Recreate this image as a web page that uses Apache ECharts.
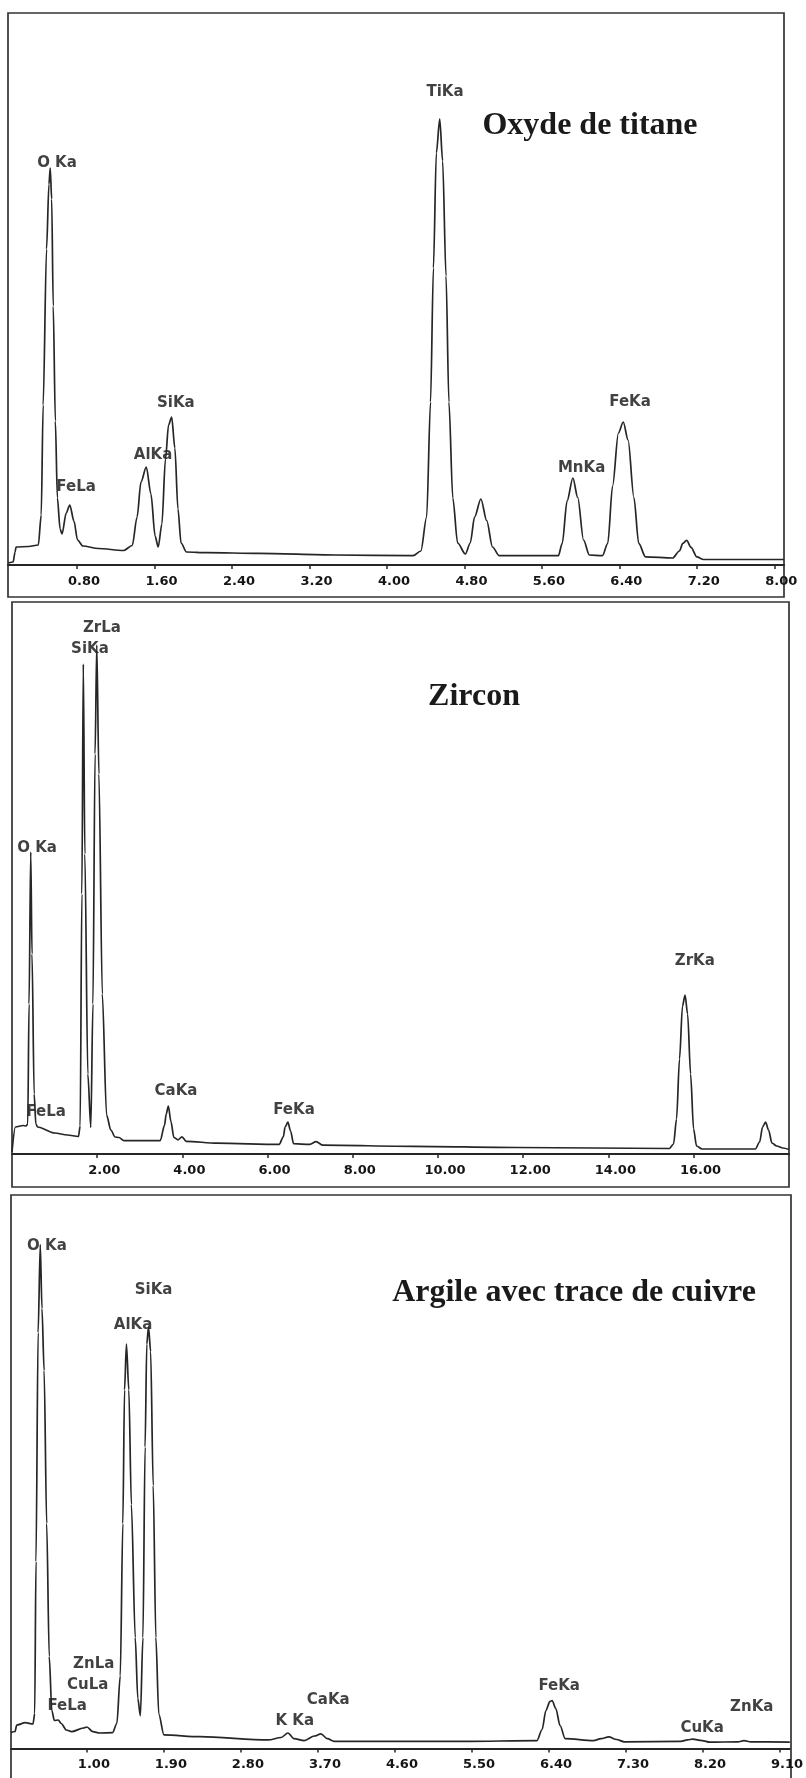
<!DOCTYPE html>
<html>
<head>
<meta charset="utf-8">
<script src="https://cdn.jsdelivr.net/npm/echarts@6.0.0/dist/echarts.min.js"></script>
<style>
  html, body { margin: 0; padding: 0; background: #fff; }
  #chart { width: 806px; height: 1778px; }
</style>
</head>
<body>
<div id="chart"></div>
<script>
// ---- EDS spectra: energy (keV) and relative counts ----

// Oxyde de titane
const oxydeEnergy = [0.09, 0.14, 0.16, 0.17, 0.30, 0.40, 0.43, 0.45, 0.485, 0.51, 0.523, 0.538, 0.554, 0.576, 0.597, 0.625, 0.645, 0.688, 0.725, 0.768, 0.805, 0.86, 1.02, 1.28, 1.37, 1.42, 1.46, 1.515, 1.563, 1.606, 1.638, 1.676, 1.713, 1.745, 1.777, 1.81, 1.842, 1.874, 1.93, 2.14, 2.67, 3.47, 4.27, 4.35, 4.41, 4.45, 4.48, 4.51, 4.545, 4.575, 4.61, 4.64, 4.68, 4.73, 4.81, 4.86, 4.905, 4.97, 5.03, 5.09, 5.16, 5.77, 5.81, 5.86, 5.92, 5.97, 6.03, 6.09, 6.225, 6.28, 6.33, 6.39, 6.44, 6.49, 6.55, 6.60, 6.67, 6.95, 7.02, 7.055, 7.095, 7.14, 7.20, 7.27, 8.10];
const oxydeCounts = [2, 3, 13, 18, 18.5, 20, 50, 160, 316, 381, 397, 366, 259, 144, 67, 36, 31, 52, 60, 44, 25, 19, 16.5, 14.5, 19.5, 48, 83, 98, 71, 29, 18, 41, 106, 140, 148, 117, 56, 22, 13, 12.4, 11.6, 10, 9.3, 14, 48, 163, 297, 412, 446, 404, 289, 163, 67, 22, 11, 22, 48, 66, 44.5, 18, 9.3, 9.3, 21.6, 64, 87, 67.5, 25, 10, 9.3, 21.6, 79, 132, 143, 125, 67.5, 21.6, 8.2, 7, 14, 21.6, 24.6, 17.7, 8.2, 5.5, 5.5];

// Zircon
const zirconEnergy = [0.0, 0.08, 0.26, 0.33, 0.37, 0.40, 0.44, 0.47, 0.52, 0.56, 0.60, 1.0, 1.3, 1.56, 1.60, 1.64, 1.674, 1.71, 1.78, 1.85, 1.90, 1.95, 1.99, 2.04, 2.12, 2.22, 2.32, 2.42, 2.51, 2.63, 3.48, 3.58, 3.62, 3.67, 3.73, 3.80, 3.90, 3.99, 4.09, 4.81, 6.27, 6.37, 6.41, 6.475, 6.54, 6.61, 6.99, 7.14, 7.30, 9.42, 11.85, 15.43, 15.53, 15.60, 15.67, 15.74, 15.80, 15.86, 15.93, 16.0, 16.07, 16.2, 17.45, 17.55, 17.62, 17.69, 17.76, 17.84, 17.95, 18.1, 18.24];
const zirconCounts = [2, 27, 28.5, 28, 30, 150, 302, 200, 60, 30, 27, 21, 19, 17.5, 28, 260, 490, 300, 80, 26.5, 150, 400, 509, 380, 160, 39, 24, 17, 16.5, 13.4, 13.4, 28.7, 40, 48, 32.6, 16.5, 14.2, 17.2, 12.7, 10.8, 9.6, 17.2, 26.8, 31.8, 23, 10.3, 9.6, 12.3, 8.8, 7.7, 6.5, 5.5, 10, 35, 95, 148, 159, 140, 80, 25, 8, 5, 5, 12, 27, 32, 24, 11, 8, 6, 4.5];

// Argile avec trace de cuivre
const argileEnergy = [0.113, 0.16, 0.18, 0.28, 0.37, 0.39, 0.405, 0.43, 0.455, 0.475, 0.50, 0.53, 0.56, 0.59, 0.62, 0.665, 0.70, 0.76, 0.82, 0.96, 1.0, 1.07, 1.15, 1.30, 1.35, 1.39, 1.42, 1.44, 1.462, 1.49, 1.52, 1.565, 1.595, 1.625, 1.655, 1.68, 1.70, 1.72, 1.745, 1.775, 1.806, 1.84, 1.90, 2.32, 3.12, 3.27, 3.35, 3.42, 3.54, 3.66, 3.735, 3.81, 3.89, 5.41, 6.26, 6.32, 6.365, 6.41, 6.437, 6.48, 6.53, 6.59, 6.92, 7.01, 7.10, 7.19, 7.28, 7.94, 8.02, 8.08, 8.19, 8.28, 8.61, 8.68, 8.76, 9.215];
const argileCounts = [16, 17, 23.5, 25.8, 24.5, 35, 187, 416, 504, 440, 378, 225, 92, 38, 28, 28.5, 25, 18.5, 16.8, 20.5, 21.5, 16.8, 15.5, 15.8, 25, 72.7, 225, 358.7, 404.5, 358.7, 244, 111, 50, 32.7, 111, 301.5, 404.5, 421.7, 397, 263, 111, 34.5, 13.6, 11.8, 8.6, 11, 15.5, 9.8, 7.9, 12.5, 14.7, 9.8, 7.1, 7.1, 7.9, 19, 38, 46.8, 48, 40, 23, 9.8, 7.9, 9.8, 11.7, 9, 6.7, 7.1, 8.6, 9.4, 7.9, 6.3, 6.7, 7.9, 6.7, 6.3];

// Axis tick labels (keV)
const oxydeTicks = [0.8, 1.6, 2.4, 3.2, 4.0, 4.8, 5.6, 6.4, 7.2, 8.0];
const zirconTicks = [2, 4, 6, 8, 10, 12, 14, 16];
const argileTicks = [1.0, 1.9, 2.8, 3.7, 4.6, 5.5, 6.4, 7.3, 8.2, 9.1];

// Line labels: name, energy, counts at the label centre
const oxydeLines = ['O Ka', 'FeLa', 'AlKa', 'SiKa', 'TiKa', 'MnKa', 'FeKa'];
const oxydeLineE = [0.593, 0.79, 1.585, 1.82, 4.60, 6.01, 6.51];
const oxydeLineC = [402, 78, 110, 162, 473, 97, 163];

const zirconLines = ['ZrLa', 'SiKa', 'O Ka', 'FeLa', 'CaKa', 'FeKa', 'ZrKa'];
const zirconLineE = [2.11, 1.83, 0.59, 0.80, 3.85, 6.62, 16.03];
const zirconLineC = [526, 505, 306, 42, 63, 44, 193];

const argileLines = ['O Ka', 'SiKa', 'AlKa', 'ZnLa', 'CuLa', 'FeLa', 'K Ka', 'CaKa', 'FeKa', 'CuKa', 'ZnKa'];
const argileLineE = [0.533, 1.78, 1.54, 1.08, 1.01, 0.77, 3.43, 3.82, 6.52, 8.19, 8.77];
const argileLineC = [502, 458, 423, 84, 63, 42, 27, 48, 62, 20, 41];

const titles = ['Oxyde de titane', 'Zircon', 'Argile avec trace de cuivre'];

// ---- layout ----
const INK = '#262626';
const panels = [
  { grid: { left: 8, top: 13, width: 776, height: 552 }, x: [0.087, 8.10], yMax: 552,
    energy: oxydeEnergy, counts: oxydeCounts, ticks: oxydeTicks,
    names: oxydeLines, lineE: oxydeLineE, lineC: oxydeLineC,
    frame: { x: 8, y: 13, width: 776, height: 584 }, title: { x: 590, y: 126 } },
  { grid: { left: 12, top: 602, width: 777, height: 552 }, x: [0, 18.24], yMax: 552,
    energy: zirconEnergy, counts: zirconCounts, ticks: zirconTicks,
    names: zirconLines, lineE: zirconLineE, lineC: zirconLineC,
    frame: { x: 12, y: 602, width: 777, height: 585 }, title: { x: 474, y: 697 } },
  { grid: { left: 11, top: 1195, width: 780, height: 553.5 }, x: [0.113, 9.215], yMax: 553.5,
    energy: argileEnergy, counts: argileCounts, ticks: argileTicks,
    names: argileLines, lineE: argileLineE, lineC: argileLineC,
    frame: { x: 11, y: 1195, width: 780, height: 620 }, title: { x: 574, y: 1293 } }
];

const zip = (a, b) => a.map((v, i) => [v, b[i]]);

const option = {
  animation: false,
  backgroundColor: '#ffffff',
  grid: panels.map(p => p.grid),
  xAxis: panels.map((p, i) => ({
    type: 'value', gridIndex: i, min: p.x[0], max: p.x[1],
    axisLine: { show: true, onZero: false, lineStyle: { color: INK, width: 2 } },
    axisTick: { show: true, customValues: p.ticks, length: 4, lineStyle: { color: INK, width: 1.5 } },
    axisLabel: {
      customValues: p.ticks, margin: 10, color: '#151515',
      fontFamily: 'DejaVu Sans', fontWeight: 'bold', fontSize: 13,
      padding: [0, 0, 0, 14],
      formatter: v => v.toFixed(2)
    },
    splitLine: { show: false }
  })),
  yAxis: panels.map((p, i) => ({
    type: 'value', gridIndex: i, min: 0, max: p.yMax, show: false
  })),
  series: [].concat(
    panels.map((p, i) => ({
      type: 'line', xAxisIndex: i, yAxisIndex: i,
      data: zip(p.energy, p.counts),
      showSymbol: false, smooth: 0.3, smoothMonotone: 'x',
      lineStyle: { color: INK, width: 1.7 }, silent: true
    })),
    panels.map((p, i) => ({
      type: 'scatter', xAxisIndex: i, yAxisIndex: i, symbolSize: 0, silent: true,
      data: p.names.map((n, k) => ({ name: n, value: [p.lineE[k], p.lineC[k]] })),
      label: {
        show: true, position: 'inside', formatter: d => d.name,
        color: '#111111', fontFamily: 'DejaVu Sans', fontWeight: 'bold', fontSize: 15
      }
    }))
  ),
  graphic: [].concat(
    panels.map(p => ({
      type: 'rect', shape: p.frame, silent: true,
      style: { fill: null, stroke: '#333333', lineWidth: 1.7 }
    })),
    panels.map((p, i) => ({
      type: 'text', x: p.title.x, y: p.title.y, silent: true,
      style: {
        text: titles[i], fill: '#1a1a1a', align: 'center', verticalAlign: 'middle',
        font: 'bold 32px "Liberation Serif", "Times New Roman", serif'
      }
    }))
  )
};

const chart = echarts.init(document.getElementById('chart'), null, { renderer: 'canvas' });
chart.setOption(option);
</script>
</body>
</html>
